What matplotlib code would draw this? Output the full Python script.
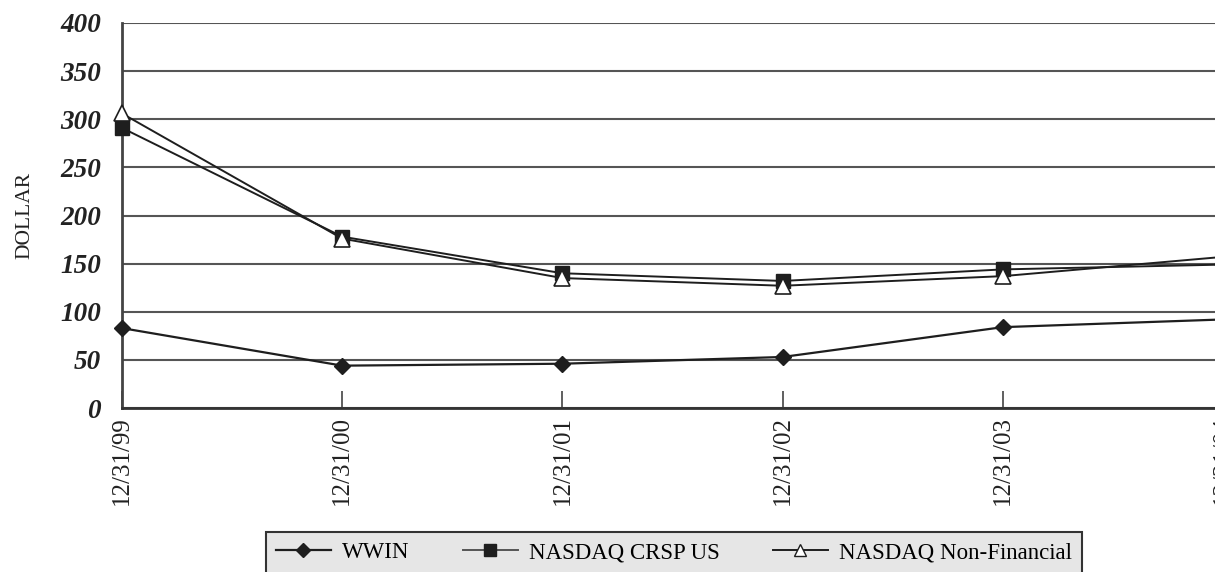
import matplotlib.pyplot as plt
from matplotlib.lines import Line2D
import numpy as np

dates = ["12/31/99", "12/31/00", "12/31/01", "12/31/02", "12/31/03", "12/31/04"]
wwin = [83, 44, 46, 53, 84, 92]
crsp = [291, 178, 140, 132, 144, 149]
nonfin = [306, 176, 135, 127, 137, 157]
yticks = [0, 50, 100, 150, 200, 250, 300, 350, 400]

plt.rcParams["font.family"] = ["Liberation Serif", "DejaVu Serif"]

fig = plt.figure(figsize=(12.15, 5.72), dpi=100)
# plot area: left at x=122px, one year = 220.2px, y 0..400 -> 408..23 px
step = 220.2
ax = fig.add_axes([122 / 1215, 164 / 572, 5.5 * step / 1215, 385 / 572])

x = np.arange(len(dates))
lc = "#1e1e1e"
ax.plot(x, wwin, color=lc, lw=1.6, marker="D", ms=8, mfc=lc, mec=lc,
        zorder=3, clip_on=False)
ax.plot(x, crsp, color=lc, lw=1.4, marker="s", ms=10, mfc=lc, mec=lc,
        zorder=3, clip_on=False)
ax.plot(x, nonfin, color=lc, lw=1.4, marker="^", ms=12, mfc="white", mec=lc,
        mew=1.2, zorder=4, clip_on=False)

ax.set_xlim(0, 5.5)
ax.set_ylim(0, 400)
ax.set_yticks(yticks)
ax.set_yticklabels([str(v) for v in yticks], fontsize=19.5, fontweight="bold",
                   fontstyle="italic", color="#222222")
ax.set_xticks(x)
ax.set_xticklabels(dates, rotation=90, fontsize=18, color="#222222")
ax.tick_params(axis="y", length=0, pad=15)
ax.tick_params(axis="x", direction="in", length=12, width=1.2, color="#444444",
               pad=6)
ax.yaxis.grid(True, color="#555555", lw=1.5)
ax.set_axisbelow(True)
for s in ["top", "right"]:
    ax.spines[s].set_visible(False)
ax.spines["left"].set_color("#444444")
ax.spines["left"].set_linewidth(2)
ax.spines["bottom"].set_color("#333333")
ax.spines["bottom"].set_linewidth(2)

ax.set_ylabel("DOLLAR", fontsize=15.5, color="#222222")
ax.yaxis.set_label_coords(-88 / (5.5 * step), 0.5)

handles = [
    Line2D([], [], color=lc, lw=1.6, marker="D", ms=7, mfc=lc, mec=lc),
    Line2D([], [], color="#555555", lw=1.4, marker="s", ms=8, mfc=lc, mec=lc),
    Line2D([], [], color=lc, lw=1.4, marker="^", ms=8, mfc="white", mec=lc),
]
labels = ["WWIN", "NASDAQ CRSP US", "NASDAQ Non-Financial"]
leg = fig.legend(handles, labels, loc="upper center",
                 bbox_to_anchor=(674 / 1215, 40 / 572),
                 ncol=3, fontsize=16.5, frameon=True, fancybox=False,
                 edgecolor="#333333", facecolor="#e6e6e6", framealpha=1,
                 handlelength=2.4, handletextpad=0.5, columnspacing=2.3,
                 borderpad=0.45, borderaxespad=0)
leg.get_frame().set_linewidth(1.5)

fig.savefig("out.png", dpi=100)
